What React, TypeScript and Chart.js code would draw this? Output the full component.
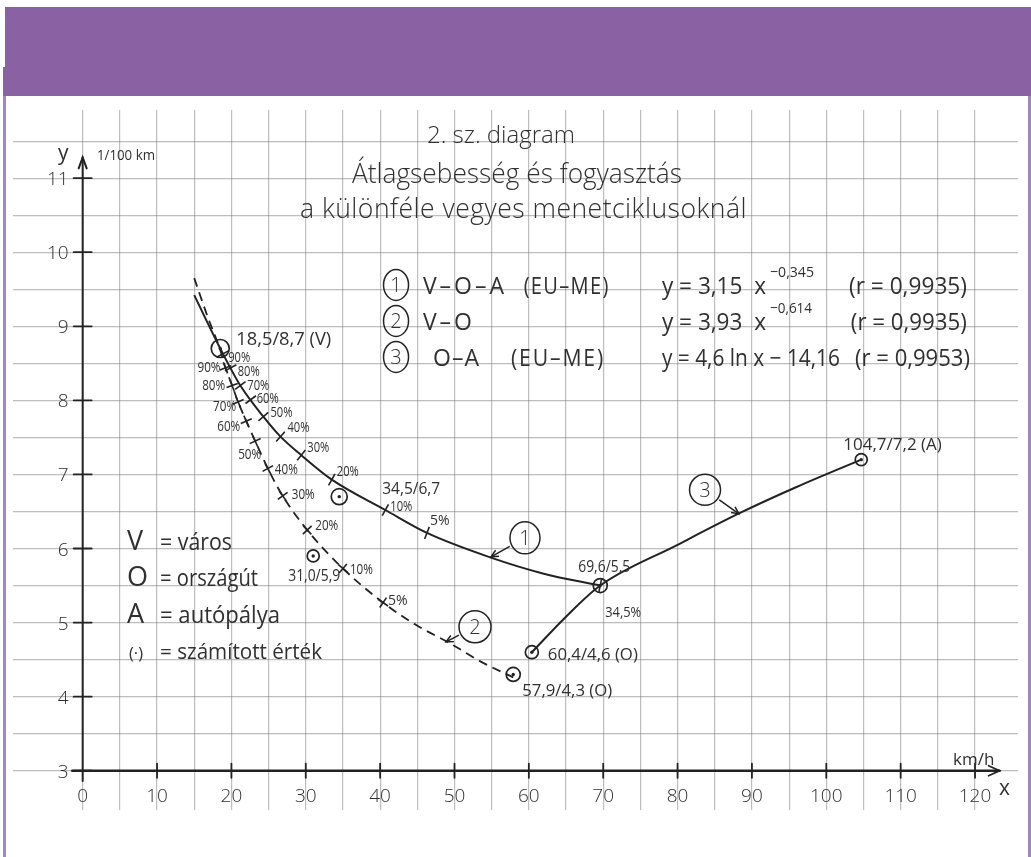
import React, { useEffect, useRef } from 'react';
import { Chart, registerables } from 'chart.js';

Chart.register(...registerables);

// ---- Average speed (km/h) vs. fuel consumption (l/100 km) ----

// (1) V-O-A (EU-ME), solid curve
const curve1Speed = [15.0, 18.5, 21.2, 24.3, 26.6, 29.4, 33.5, 40.7, 46.3, 54.8, 62.0, 69.6];
const curve1Fuel = [9.42, 8.7, 8.2, 7.78, 7.51, 7.26, 6.93, 6.52, 6.21, 5.88, 5.66, 5.5];

// (2) V-O, dashed curve
const curve2Speed = [15.0, 16.8, 18.5, 19.2, 20.1, 20.9, 22.0, 23.2, 24.9, 26.9, 30.2, 35.0, 40.4, 44.8, 49.4, 53.6, 57.9];
const curve2Fuel = [9.65, 9.13, 8.68, 8.44, 8.2, 7.98, 7.72, 7.45, 7.08, 6.71, 6.25, 5.73, 5.27, 4.97, 4.72, 4.47, 4.26];

// (3) O-A (EU-ME), solid curve
const curve3Speed = [60.4, 65.0, 69.6, 80.0, 88.4, 96.0, 104.7];
const curve3Fuel = [4.6, 5.08, 5.5, 6.05, 6.48, 6.83, 7.2];

// share marks along curve (1)
const curve1MarkSpeed = [18.9, 19.9, 21.2, 22.6, 24.3, 26.6, 29.4, 33.5, 40.7, 46.3, 69.6];
const curve1MarkFuel = [8.63, 8.44, 8.2, 8.01, 7.78, 7.51, 7.26, 6.93, 6.52, 6.21, 5.5];
const curve1MarkLabels = ['90%', '80%', '70%', '60%', '50%', '40%', '30%', '20%', '10%', '5%', '34,5%'];

// share marks along curve (2)
const curve2MarkSpeed = [19.2, 20.1, 20.9, 22.0, 23.2, 24.9, 26.9, 30.2, 35.0, 40.4];
const curve2MarkFuel = [8.44, 8.2, 7.98, 7.72, 7.45, 7.08, 6.71, 6.25, 5.73, 5.27];
const curve2MarkLabels = ['90%', '80%', '70%', '60%', '50%', '40%', '30%', '20%', '10%', '5%'];

// calculated values
const pointSpeed = [18.5, 34.5, 31.0, 69.6, 60.4, 57.9, 104.7];
const pointFuel = [8.7, 6.7, 5.9, 5.5, 4.6, 4.3, 7.2];
const pointTags = [' (V)', '', '', '', ' (O)', ' (O)', ' (A)'];

// axis ticks
const speedTicks = [0, 10, 20, 30, 40, 50, 60, 70, 80, 90, 100, 110, 120];
const fuelTicks = [3, 4, 5, 6, 7, 8, 9, 10, 11];

// axis ranges of the grid paper
const X_MIN = -9.37;
const X_MAX = 125.78;
const Y_MIN = 2.47;
const Y_MAX = 11.92;

// ---- styling ----
const FONT = '"Open Sans", "Noto Sans", "DejaVu Sans", sans-serif';
const INK = '#222222';
const TEXT = '#303030';
const GRID = 'rgba(125,125,125,0.5)';
const PURPLE = '#8a62a4';
const PURPLE_LINE = '#a286be';

// label offsets (px from the mark) and sizes
const curve1MarkLabelPos = [
  [5, 8], [7, 8], [7, 4], [6, 3], [7, 0], [7, -5], [6, -3], [5, -4], [5, 1], [3, -8], [5, 31],
];
const curve2MarkLabelPos = [
  [-28, 4], [-30, 4], [-25, 9], [-29, 10], [-17, 18], [7, 5], [9, 3], [8, 0], [7, 5], [5, 2],
];
const pointLabelPos = [
  { dx: 16, dy: -4, s: 19, w: 95 },
  { dx: 43, dy: -3, s: 16, w: 58 },
  { dx: -25, dy: 25, s: 16, w: 52 },
  { dx: -22, dy: -14, s: 16, w: 52 },
  { dx: 16, dy: 8, s: 17, w: 90 },
  { dx: 9, dy: 22, s: 17, w: 90 },
  { dx: -18, dy: -10, s: 17, w: 99 },
];
const pointRadii = [9, 8, 6, 7, 6.5, 7, 6];

type Note = { t: string; x: number; y: number; s: number; w?: number; ls?: number; wt?: number };

// free text, anchored in axis units (left edge / baseline)
const notes: Note[] = [
  { t: '2. sz. diagram', x: 46.3, y: 11.475, s: 24, w: 150, wt: 300 },
  { t: 'Átlagsebesség és fogyasztás', x: 36.22, y: 10.935, s: 27, w: 330, wt: 300 },
  { t: 'a különféle vegyes menetciklusoknál', x: 29.22, y: 10.462, s: 27, w: 447, ls: 0.5, wt: 300 },

  { t: 'V–O–A', x: 45.75, y: 9.437, s: 23, w: 90, ls: 3 },
  { t: '(EU–ME)', x: 59.3, y: 9.437, s: 23, w: 86, ls: 1.5 },
  { t: 'V–O', x: 45.75, y: 8.951, s: 23, w: 58, ls: 3 },
  { t: 'O–A', x: 47.11, y: 8.466, s: 23, w: 50, ls: 1 },
  { t: '(EU–ME)', x: 57.6, y: 8.466, s: 23, w: 94, ls: 2 },
  { t: 'y = 3,15  x', x: 77.9, y: 9.437, s: 23, w: 104 },
  { t: '−0,345', x: 92.43, y: 9.667, s: 15, w: 44 },
  { t: '(r = 0,9935)', x: 103.05, y: 9.437, s: 23, w: 118 },
  { t: 'y = 3,93  x', x: 77.9, y: 8.951, s: 23, w: 104 },
  { t: '−0,614', x: 92.43, y: 9.181, s: 15, w: 42 },
  { t: '(r = 0,9935)', x: 103.3, y: 8.951, s: 23, w: 116 },
  { t: 'y = 4,6 ln x − 14,16', x: 77.9, y: 8.466, s: 23, w: 178 },
  { t: '(r = 0,9953)', x: 103.86, y: 8.466, s: 23, w: 115 },

  { t: 'V', x: 5.96, y: 5.982, s: 27 },
  { t: '= város', x: 10.4, y: 5.982, s: 23, w: 72 },
  { t: 'O', x: 5.96, y: 5.497, s: 27 },
  { t: '= országút', x: 10.4, y: 5.497, s: 23, w: 98 },
  { t: 'A', x: 5.96, y: 4.997, s: 27 },
  { t: '= autópálya', x: 10.4, y: 4.997, s: 23, w: 120 },
  { t: '(·)', x: 6.23, y: 4.511, s: 17, w: 14 },
  { t: '= számított érték', x: 10.4, y: 4.511, s: 21, w: 162 },

  { t: 'y', x: -3.32, y: 11.245, s: 21 },
  { t: '1/100 km', x: 1.92, y: 11.245, s: 15, w: 58 },
  { t: 'km/h', x: 117.04, y: 3.081, s: 17, w: 42 },
  { t: 'x', x: 123.22, y: 2.676, s: 21 },
];

type Badge = { n: string; x: number; y: number; rx: number; ry: number; tip?: [number, number] };

// numbered circles of the key and the call-outs pointing at the curves
const badges: Badge[] = [
  { n: '1', x: 42.14, y: 9.559, rx: 12.5, ry: 15.5 },
  { n: '2', x: 42.14, y: 9.073, rx: 12.5, ry: 15.5 },
  { n: '3', x: 42.14, y: 8.587, rx: 12.5, ry: 15.5 },
  { n: '1', x: 59.48, y: 6.144, rx: 15, ry: 16, tip: [54.91, 5.888] },
  { n: '2', x: 52.76, y: 4.943, rx: 16, ry: 16, tip: [48.86, 4.74] },
  { n: '3', x: 83.69, y: 6.792, rx: 15.5, ry: 15.5, tip: [88.25, 6.468] },
];

const fmt = (v: number) => v.toFixed(1).replace('.', ',');
const toXY = (xs: number[], ys: number[]) => xs.map((v, i) => ({ x: v, y: ys[i] }));
const isStep = (v: number, step: number) => Math.abs(v / step - Math.round(v / step)) < 1e-6;

function tangentDeg(chart: any, xs: number[], ys: number[], xv: number): number {
  const sx = chart.scales.x;
  const sy = chart.scales.y;
  let i = 0;
  while (i < xs.length - 2 && xs[i + 1] <= xv) i++;
  const dx = sx.getPixelForValue(xs[i + 1]) - sx.getPixelForValue(xs[i]);
  const dy = sy.getPixelForValue(ys[i + 1]) - sy.getPixelForValue(ys[i]);
  return (Math.atan2(dy, dx) * 180) / Math.PI;
}

function text(
  ctx: CanvasRenderingContext2D,
  t: string,
  x: number,
  y: number,
  size: number,
  w?: number,
  align: CanvasTextAlign = 'left',
  ls = 0,
  weight = 400,
) {
  ctx.font = `${weight} ${size}px ${FONT}`;
  ctx.textAlign = align;
  ctx.textBaseline = 'alphabetic';
  (ctx as any).letterSpacing = `${ls}px`;
  if (w) ctx.fillText(t, x, y, w);
  else ctx.fillText(t, x, y);
  (ctx as any).letterSpacing = '0px';
}

function segment(ctx: CanvasRenderingContext2D, x1: number, y1: number, x2: number, y2: number) {
  ctx.beginPath();
  ctx.moveTo(x1, y1);
  ctx.lineTo(x2, y2);
  ctx.stroke();
}

// hand-lettered axes: lines with arrows, crossing tick marks and numbers
const axesPlugin = {
  id: 'paperAxes',
  beforeDatasetsDraw(chart: any) {
    const { ctx, scales } = chart;
    const sx = scales.x;
    const sy = scales.y;
    const x0 = sx.getPixelForValue(0);
    const y3 = sy.getPixelForValue(3);
    ctx.save();
    ctx.strokeStyle = INK;
    ctx.fillStyle = TEXT;
    ctx.lineCap = 'round';

    // vertical axis
    ctx.lineWidth = 2;
    const yTop = sy.getPixelForValue(11.28);
    segment(ctx, x0, sy.getPixelForValue(2.86), x0, yTop);
    ctx.beginPath();
    ctx.moveTo(x0 - 4, yTop + 11);
    ctx.lineTo(x0, yTop);
    ctx.lineTo(x0 + 4, yTop + 11);
    ctx.stroke();

    // horizontal axis
    ctx.lineWidth = 2.6;
    const xEnd = sx.getPixelForValue(123.3);
    segment(ctx, sx.getPixelForValue(-1.4), y3, xEnd, y3);
    ctx.lineWidth = 1.8;
    ctx.beginPath();
    ctx.moveTo(xEnd - 11, y3 - 5);
    ctx.lineTo(xEnd, y3);
    ctx.lineTo(xEnd - 11, y3 + 5);
    ctx.stroke();

    // tick crosses and numbers
    ctx.lineWidth = 1.8;
    fuelTicks.forEach((v) => {
      const p = sy.getPixelForValue(v);
      segment(ctx, x0 - 9, p, x0 + 9, p);
      text(ctx, String(v), x0 - 14, p + 7, 19, undefined, 'right', 0, 300);
    });
    speedTicks.forEach((v) => {
      const p = sx.getPixelForValue(v);
      if (v > 0) segment(ctx, p, y3 - 7, p, y3 + 7);
      text(ctx, String(v), p, y3 + 31, 19, undefined, 'center', 0, 300);
    });
    ctx.restore();
  },

  afterDatasetsDraw(chart: any) {
    const { ctx, scales } = chart;
    const sx = scales.x;
    const sy = scales.y;
    const px = (v: number) => sx.getPixelForValue(v);
    const py = (v: number) => sy.getPixelForValue(v);
    ctx.save();
    ctx.fillStyle = TEXT;
    ctx.strokeStyle = INK;

    notes.forEach((n) => text(ctx, n.t, px(n.x), py(n.y), n.s, n.w, 'left', n.ls || 0, n.wt || 400));

    // percentage marks
    curve1MarkLabels.forEach((lab, i) => {
      const [dx, dy] = curve1MarkLabelPos[i];
      text(ctx, lab, px(curve1MarkSpeed[i]) + dx, py(curve1MarkFuel[i]) + dy, 14, lab.length > 3 ? 36 : 22);
    });
    curve2MarkLabels.forEach((lab, i) => {
      const [dx, dy] = curve2MarkLabelPos[i];
      text(ctx, lab, px(curve2MarkSpeed[i]) + dx, py(curve2MarkFuel[i]) + dy, 14, 23);
    });

    // calculated points
    pointSpeed.forEach((sp, i) => {
      const st = pointLabelPos[i];
      const label = `${fmt(sp)}/${fmt(pointFuel[i])}${pointTags[i]}`;
      text(ctx, label, px(sp) + st.dx, py(pointFuel[i]) + st.dy, st.s, st.w);
    });

    // numbered circles and call-out arrows
    badges.forEach((b) => {
      const cx = px(b.x);
      const cy = py(b.y);
      ctx.lineWidth = 1.5;
      ctx.beginPath();
      ctx.ellipse(cx, cy, b.rx, b.ry, 0, 0, Math.PI * 2);
      ctx.stroke();
      text(ctx, b.n, cx, cy + 7, 20, undefined, 'center', 0, 300);
      if (b.tip) {
        const tx = px(b.tip[0]);
        const ty = py(b.tip[1]);
        const ang = Math.atan2(ty - cy, tx - cx);
        const r = (b.rx + b.ry) / 2 + 2;
        const sxp = cx + Math.cos(ang) * r;
        const syp = cy + Math.sin(ang) * r;
        ctx.lineWidth = 1.5;
        segment(ctx, sxp, syp, tx, ty);
        const h = 8;
        ctx.beginPath();
        ctx.moveTo(tx - h * Math.cos(ang - 0.45), ty - h * Math.sin(ang - 0.45));
        ctx.lineTo(tx, ty);
        ctx.lineTo(tx - h * Math.cos(ang + 0.45), ty - h * Math.sin(ang + 0.45));
        ctx.stroke();
      }
    });
    ctx.restore();
  },
};

export default function App() {
  const canvasRef = useRef<HTMLCanvasElement | null>(null);

  useEffect(() => {
    const canvas = canvasRef.current;
    if (!canvas) return;
    const chart = new Chart(canvas, {
      type: 'scatter',
      data: {
        datasets: [
          {
            label: 'V-O-A (EU-ME)',
            data: toXY(curve1Speed, curve1Fuel),
            showLine: true,
            borderColor: INK,
            borderWidth: 2,
            pointRadius: 0,
            cubicInterpolationMode: 'monotone',
          },
          {
            label: 'V-O',
            data: toXY(curve2Speed, curve2Fuel),
            showLine: true,
            borderColor: INK,
            borderWidth: 1.8,
            borderDash: [9, 6],
            pointRadius: 0,
            cubicInterpolationMode: 'monotone',
          },
          {
            label: 'O-A (EU-ME)',
            data: toXY(curve3Speed, curve3Fuel),
            showLine: true,
            borderColor: INK,
            borderWidth: 2,
            pointRadius: 0,
            cubicInterpolationMode: 'monotone',
          },
          {
            label: 'marks (1)',
            data: toXY(curve1MarkSpeed, curve1MarkFuel),
            showLine: false,
            pointStyle: 'line',
            pointRadius: 6.5,
            pointBorderWidth: 1.6,
            pointBorderColor: INK,
            pointRotation: (c: any) => tangentDeg(c.chart, curve1Speed, curve1Fuel, curve1MarkSpeed[c.dataIndex]) + 90,
          },
          {
            label: 'marks (2)',
            data: toXY(curve2MarkSpeed, curve2MarkFuel),
            showLine: false,
            pointStyle: 'cross',
            pointRadius: 6,
            pointBorderWidth: 1.6,
            pointBorderColor: INK,
            pointRotation: (c: any) => tangentDeg(c.chart, curve2Speed, curve2Fuel, curve2MarkSpeed[c.dataIndex]),
          },
          {
            label: 'számított érték',
            data: toXY(pointSpeed, pointFuel),
            showLine: false,
            pointStyle: 'circle',
            pointRadius: pointRadii,
            pointBackgroundColor: 'rgba(255,255,255,0)',
            pointBorderColor: INK,
            pointBorderWidth: 1.7,
          },
          {
            label: 'számított érték (pont)',
            data: toXY(pointSpeed, pointFuel),
            showLine: false,
            pointStyle: 'circle',
            pointRadius: 1.7,
            pointBackgroundColor: INK,
            pointBorderWidth: 0,
          },
        ],
      },
      options: {
        responsive: false,
        animation: false,
        events: [],
        layout: { padding: 0, autoPadding: false },
        plugins: {
          legend: { display: false },
          tooltip: { enabled: false },
        },
        scales: {
          x: {
            type: 'linear',
            min: X_MIN,
            max: X_MAX,
            position: { y: 3 } as any,
            afterBuildTicks: (s: any) => {
              s.ticks = s.ticks.filter((t: any) => isStep(t.value, 5));
            },
            ticks: { display: false, stepSize: 5, autoSkip: false },
            grid: { color: GRID, lineWidth: 1.2, drawTicks: false },
            border: { display: false },
          },
          y: {
            type: 'linear',
            min: Y_MIN,
            max: Y_MAX,
            position: { x: 0 } as any,
            afterBuildTicks: (s: any) => {
              s.ticks = s.ticks.filter((t: any) => isStep(t.value, 0.5));
            },
            ticks: { display: false, stepSize: 0.5, autoSkip: false },
            grid: { color: GRID, lineWidth: 1.2, drawTicks: false },
            border: { display: false },
          },
        },
      },
      plugins: [axesPlugin],
    } as any);
    return () => chart.destroy();
  }, []);

  return (
    <div style={{ position: 'absolute', left: 0, top: 0, width: 1031, height: 857, overflow: 'hidden', background: '#fff' }}>
      <div style={{ position: 'absolute', left: 5, top: 7, width: 1026, height: 60, background: PURPLE }} />
      <div style={{ position: 'absolute', left: 3, top: 67, width: 1028, height: 29, background: PURPLE }} />
      <div style={{ position: 'absolute', left: 3, top: 96, width: 3, height: 761, background: PURPLE_LINE }} />
      <div style={{ position: 'absolute', left: 1028, top: 96, width: 3, height: 761, background: PURPLE_LINE }} />
      <canvas ref={canvasRef} width={1005} height={700} style={{ position: 'absolute', left: 13, top: 110, width: 1005, height: 700 }} />
    </div>
  );
}
